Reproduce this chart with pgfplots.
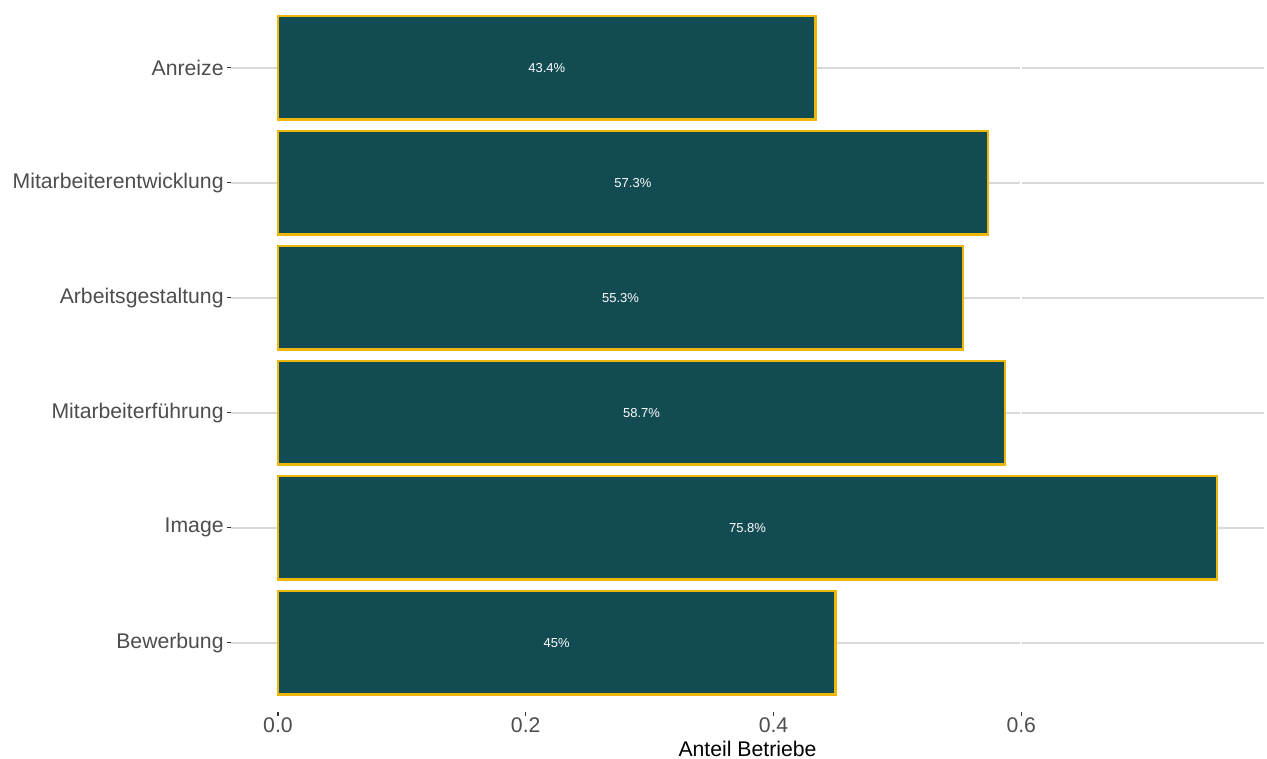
\documentclass[border=0pt]{standalone}
\usepackage{pgfplots}
\usepackage{pgfplotstable}
\pgfplotsset{compat=1.18}
\usepackage{fontspec}
\setmainfont{Liberation Sans}
\usetikzlibrary{calc}
\definecolor{barfill}{HTML}{134B52}
\definecolor{barline}{HTML}{EDB70A}
\definecolor{gridgray}{HTML}{D9D9D9}
\definecolor{ticklab}{HTML}{4D4D4D}
\pgfplotstableread{
y v lab
0 0.450 45
1 0.758 75.8
2 0.587 58.7
3 0.553 55.3
4 0.573 57.3
5 0.434 43.4
}\data
\begin{document}
\begin{tikzpicture}
\begin{axis}[
  scale only axis, width=516.5pt, height=355.35pt,
  xmin=-0.0379, xmax=0.7959, ymin=-0.6, ymax=5.58,
  axis line style={draw=none},
  xtick pos=bottom, ytick pos=left,
  tick align=outside, major tick length=2pt,
  tick style={color=black!80, line width=0.6pt},
  xtick={0,0.2,0.4,0.6},
  ytick={0,1,2,3,4,5},
  yticklabels={Bewerbung,Image,Mitarbeiterführung,Arbeitsgestaltung,Mitarbeiterentwicklung,Anreize},
  xticklabel style={/pgf/number format/fixed, /pgf/number format/fixed zerofill, /pgf/number format/precision=1, inner sep=1pt},
  yticklabel style={inner sep=1.5pt},
  ticklabel style={font=\fontsize{10.6}{12}\selectfont, text=ticklab},
  /pgf/number format/assume math mode=true,
  ymajorgrids, y grid style={gridgray, line width=1pt},
  xlabel={Anteil Betriebe},
  xlabel style={font=\fontsize{10.6}{12}\selectfont, text=black, at={(axis description cs:0.5,0)}, anchor=center, yshift=-18.5pt, inner sep=0pt},
  clip=false,
]
\coordinate (ll) at (rel axis cs:0,0);
\coordinate (ur) at (rel axis cs:1,1);
\draw[white, line width=1pt] (axis cs:0,-0.6) -- (axis cs:0,5.58);
\draw[white, line width=1pt] (axis cs:0.2,-0.6) -- (axis cs:0.2,5.58);
\draw[white, line width=1pt] (axis cs:0.4,-0.6) -- (axis cs:0.4,5.58);
\draw[white, line width=1pt] (axis cs:0.6,-0.6) -- (axis cs:0.6,5.58);
\addplot[xbar, bar width=0.9, bar shift=0pt, fill=barfill, draw=barline, line width=1.2pt]
  table[x=v, y=y] {\data};
\addplot[only marks, mark=none, nodes near coords={\pgfplotspointmeta\%},
  nodes near coords align=center, point meta=explicit symbolic,
  every node near coord/.append style={font=\fontsize{6.5}{8}\selectfont, text=white, anchor=center}]
  table[x expr=\thisrow{v}/2, y=y, meta=lab] {\data};
\end{axis}
\path ($(ll)+(-115.5pt,-23.5pt)$) rectangle ($(ur)+(1.5pt,0.3pt)$);
\end{tikzpicture}
\end{document}
